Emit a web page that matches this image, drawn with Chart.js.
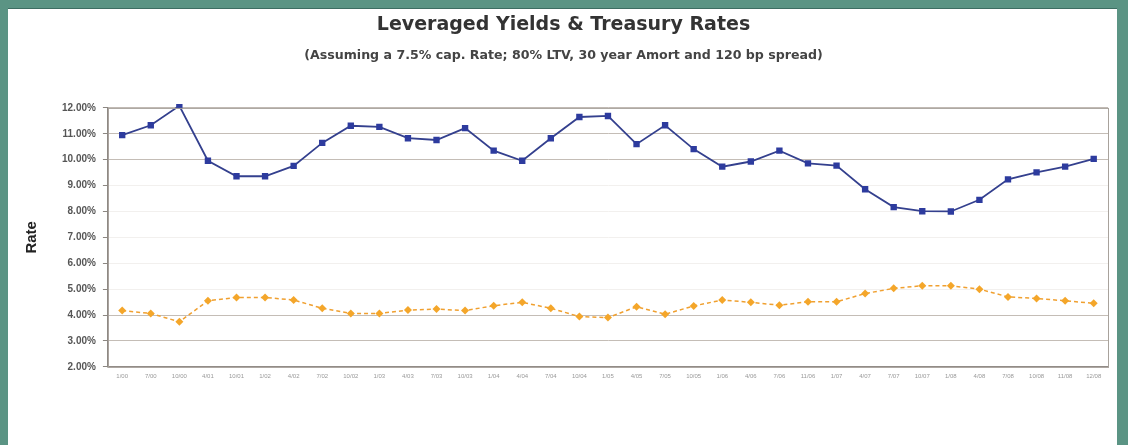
<!DOCTYPE html>
<html>
<head>
<meta charset="utf-8">
<script src="https://cdn.jsdelivr.net/npm/chart.js@4"></script>
<style>
    html, body { margin: 0; padding: 0; }
    body { width: 1128px; height: 445px; background: #5b9484; overflow: hidden; }
    #frame { position: absolute; left: 8px; top: 8px; width: 1109px; height: 437px; background: #fff; border-top: 1px solid #3d6d62; }
    #chart { display: block; }
</style>
</head>
<body>
<div id="frame"><canvas id="chart" width="1109" height="437"></canvas></div>
<script>
// 분기별 라벨 (원본 이미지에서 판독 불가 -> 추정)
const labels = ['1/00', '7/00', '10/00', '4/01', '10/01', '1/02', '4/02', '7/02', '10/02', '1/03',
    '4/03', '7/03', '10/03', '1/04', '4/04', '7/04', '10/04', '1/05', '4/05', '7/05',
    '10/05', '1/06', '4/06', '7/06', '11/06', '1/07', '4/07', '7/07', '10/07', '1/08',
    '4/08', '7/08', '10/08', '11/08', '12/08'];

const leveragedYields = [10.95, 11.33, 12.08, 9.96, 9.36, 9.36, 9.76, 10.65, 11.31, 11.27,
    10.83, 10.76, 11.22, 10.35, 9.96, 10.83, 11.65, 11.69, 10.60, 11.33,
    10.41, 9.73, 9.93, 10.35, 9.86, 9.77, 8.86, 8.17, 8.01, 8.00,
    8.45, 9.24, 9.51, 9.73, 10.03];

const treasuryRates = [4.17, 4.06, 3.74, 4.55, 4.68, 4.68, 4.58, 4.26, 4.06, 4.06,
    4.19, 4.23, 4.17, 4.36, 4.49, 4.26, 3.94, 3.90, 4.32, 4.03,
    4.35, 4.58, 4.49, 4.38, 4.51, 4.51, 4.83, 5.03, 5.13, 5.13,
    5.00, 4.70, 4.64, 4.55, 4.45];

const yTicks = [2, 3, 4, 5, 6, 7, 8, 9, 10, 11, 12];

// 플롯 영역 테두리
const areaBorder = {
    id: 'areaBorder',
    afterDraw(chart) {
        const { ctx, chartArea: a } = chart;
        ctx.save();
        ctx.strokeStyle = '#a8a29c';
        ctx.lineWidth = 1;
        ctx.strokeRect(a.left + 0.5, a.top + 0.5, a.right - a.left, a.bottom - a.top);
        ctx.restore();
    }
};

let canvas = document.querySelector('#chart');

new Chart(canvas, {
    type: 'line',
    data: {
        labels: labels,
        datasets: [{
            label: 'Leveraged Yield',
            data: leveragedYields,
            borderColor: '#34408e',
            backgroundColor: '#2d3b9e',
            borderWidth: 1.8,
            pointStyle: 'rect',
            pointRadius: 4.5,
            pointBorderWidth: 0,
            tension: 0,
            clip: 4
        }, {
            label: 'Treasury Rate',
            data: treasuryRates,
            borderColor: '#f0a030',
            backgroundColor: '#f4a62a',
            borderWidth: 1.5,
            borderDash: [4, 3],
            pointStyle: 'rectRot',
            pointRadius: 4,
            pointBorderWidth: 0,
            tension: 0
        }]
    },
    options: {
        responsive: false,
        animation: false,
        layout: {
            padding: { left: 11, right: 9, top: 0, bottom: 60 }
        },
        plugins: {
            legend: { display: false },
            tooltip: { enabled: false },
            title: {
                display: true,
                text: 'Leveraged Yields & Treasury Rates',
                color: '#333',
                font: { family: 'DejaVu Sans', size: 19, weight: 'bold' },
                padding: { top: 5, bottom: 11 }
            },
            subtitle: {
                display: true,
                text: '(Assuming a 7.5% cap. Rate; 80% LTV, 30 year Amort and 120 bp spread)',
                color: '#444',
                font: { family: 'DejaVu Sans', size: 12.6, weight: 'bold' },
                padding: { top: 0, bottom: 45 }
            }
        },
        scales: {
            x: {
                offset: true,
                grid: { display: false, drawTicks: false },
                border: { color: '#8c8782', width: 1.5 },
                ticks: {
                    autoSkip: false,
                    maxRotation: 0,
                    color: '#999',
                    padding: 6,
                    font: { family: 'Liberation Sans, Arial', size: 6 }
                }
            },
            y: {
                min: 2,
                max: 12,
                afterBuildTicks: axis => { axis.ticks = yTicks.map(v => ({ value: v })); },
                title: {
                    display: true,
                    text: 'Rate',
                    color: '#222',
                    font: { family: 'Liberation Sans, Arial', size: 15, weight: 'bold' },
                    padding: { bottom: 14 }
                },
                grid: {
                    color: c => (c.tick && c.tick.value >= 5 && c.tick.value <= 9) ? '#f2f0ee' : '#c4bdb6',
                    tickLength: 5,
                    tickColor: '#8c8782'
                },
                border: { color: '#8c8782', width: 1.5 },
                ticks: {
                    color: '#555',
                    padding: 7,
                    font: { family: 'Liberation Sans, Arial', size: 10, weight: 'bold' },
                    callback: v => v.toFixed(2) + '%'
                }
            }
        }
    },
    plugins: [areaBorder]
});
</script>
</body>
</html>
